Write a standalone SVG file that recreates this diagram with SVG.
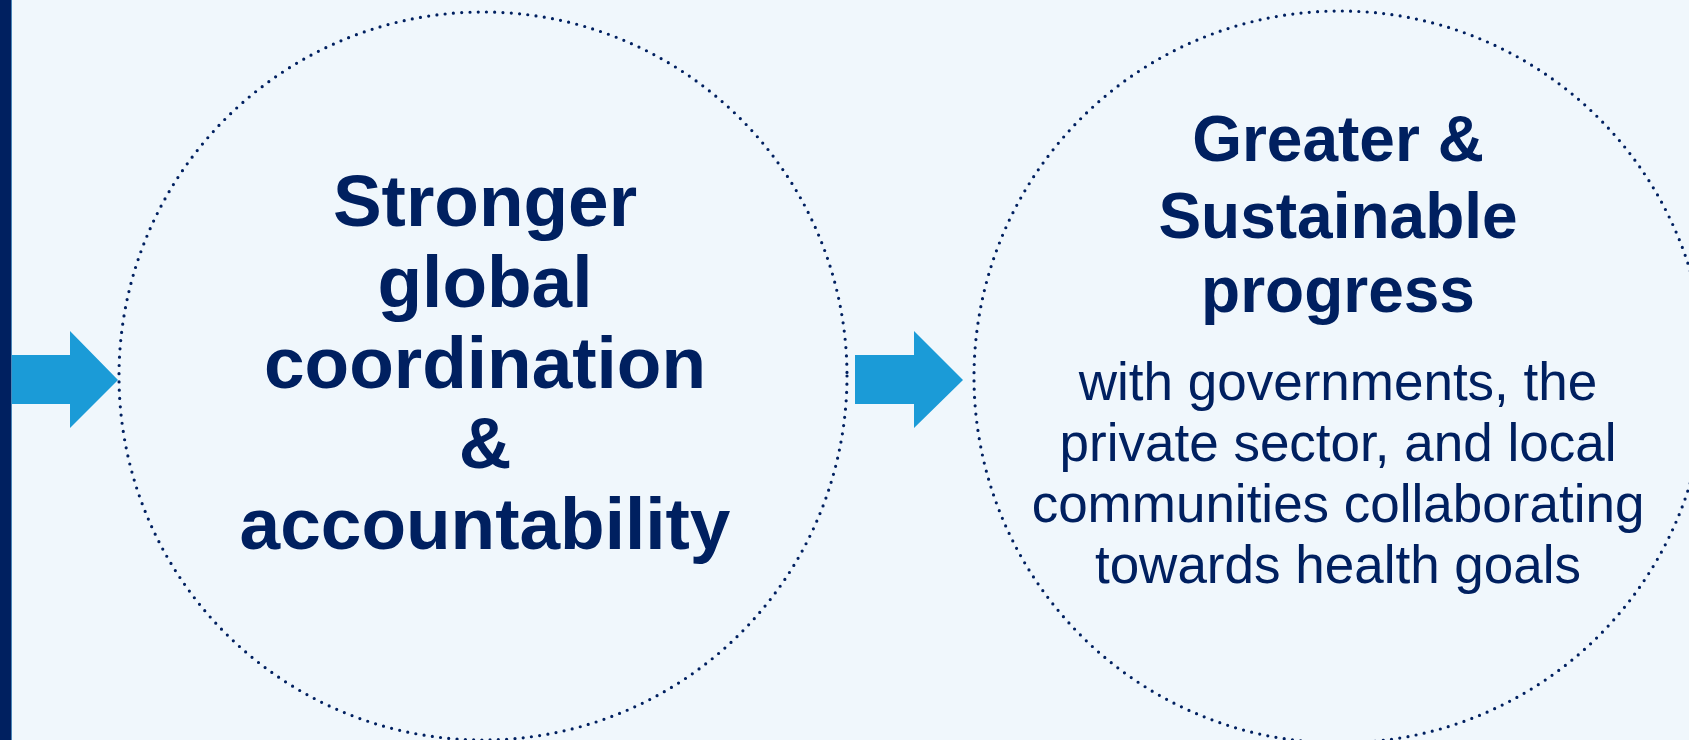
<svg xmlns="http://www.w3.org/2000/svg" width="1689" height="740" viewBox="0 0 1689 740">
<style>
.ring{fill:none;stroke:#002060;stroke-width:3.2;stroke-linecap:round;stroke-dasharray:0 8.3}
.arrow{fill:#1b9bd7}
.b{font-family:"Liberation Sans",Arial,sans-serif;font-weight:bold;fill:#002060;text-anchor:middle}
.r{font-family:"Liberation Sans",Arial,sans-serif;fill:#002060;text-anchor:middle}
</style>
<rect x="0" y="0" width="1689" height="740" fill="#f0f7fc"/>
<rect x="0" y="0" width="11" height="740" fill="#002060"/>
<rect x="11" y="0" width="1" height="740" fill="#4a86b8"/>
<g id="connectors">
<polygon class="arrow" points="12,355 70,355 70,331 118,380 70,428 70,404 12,404"/>
<polygon class="arrow" points="855,355 914,355 914,331 963,380 914,428 914,404 855,404"/>
</g>
<g id="node-coordination">
<circle class="ring" cx="483" cy="376" r="364"/>
<text class="b" font-size="73"><tspan x="485" y="226">Stronger</tspan><tspan x="485" y="307">global</tspan><tspan x="485" y="388">coordination</tspan><tspan x="485" y="468">&amp;</tspan><tspan x="485" y="549">accountability</tspan></text>
</g>
<g id="node-progress">
<circle class="ring" cx="1340" cy="377" r="366"/>
<text class="b" font-size="64"><tspan x="1338" y="161">Greater &amp;</tspan><tspan x="1338" y="238">Sustainable</tspan><tspan x="1338" y="312">progress</tspan></text>
<text class="r" font-size="53"><tspan x="1338" y="400">with governments, the</tspan><tspan x="1338" y="461">private sector, and local</tspan><tspan x="1338" y="522">communities collaborating</tspan><tspan x="1338" y="583">towards health goals</tspan></text>
</g>
</svg>
